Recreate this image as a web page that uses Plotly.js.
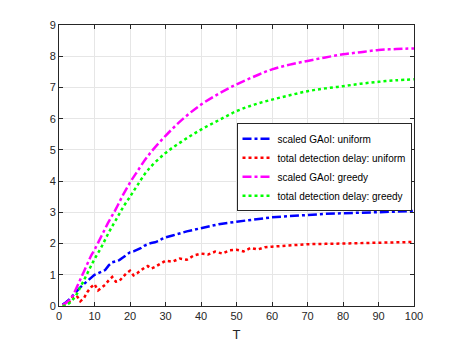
<!DOCTYPE html>
<html>
<head>
<meta charset="utf-8">
<script src="https://cdn.plot.ly/plotly-3.0.1.min.js"></script>
<style>
  html, body { margin: 0; padding: 0; background: #fff; }
  #chart { width: 457px; height: 343px; }
</style>
</head>
<body>
<div id="chart"></div>
<script>
// values
const tGreedy = [1, 2, 3, 4, 5, 6, 7, 8, 9, 10, 12, 14, 16, 18, 20, 22, 25, 30, 35, 40, 45, 50, 55, 60, 65, 70, 75, 80, 85, 90, 95, 100];
const gaoiGreedy = [0.03, 0.1, 0.2, 0.36, 0.6, 0.85, 1.1, 1.35, 1.6, 1.8, 2.25, 2.7, 3.1, 3.55, 3.95, 4.3, 4.8, 5.45, 6.0, 6.45, 6.8, 7.1, 7.35, 7.58, 7.73, 7.85, 7.96, 8.06, 8.13, 8.2, 8.23, 8.25];
const delayGreedy = [0.0, 0.02, 0.1, 0.22, 0.38, 0.6, 0.82, 1.05, 1.28, 1.5, 1.9, 2.35, 2.75, 3.15, 3.5, 3.85, 4.35, 4.9, 5.3, 5.65, 5.95, 6.24, 6.45, 6.61, 6.75, 6.88, 6.97, 7.04, 7.12, 7.18, 7.23, 7.26];

const tGaoiUniform = [1, 2, 3, 4, 5, 6, 7, 8, 9, 10, 11, 12, 13, 14, 15, 16, 17, 18, 19, 20, 21, 22, 23, 24, 25, 26, 27, 28, 29, 30, 32, 34, 36, 38, 40, 45, 50, 55, 60, 65, 70, 75, 80, 85, 90, 95, 100];
const gaoiUniform = [0.05, 0.12, 0.22, 0.35, 0.5, 0.6, 0.7, 0.8, 0.92, 1.0, 1.05, 1.1, 1.15, 1.3, 1.4, 1.43, 1.47, 1.55, 1.65, 1.72, 1.75, 1.8, 1.85, 1.93, 1.98, 2.02, 2.04, 2.08, 2.15, 2.2, 2.26, 2.33, 2.39, 2.44, 2.49, 2.62, 2.7, 2.77, 2.84, 2.88, 2.92, 2.95, 2.97, 2.99, 3.01, 3.03, 3.04];

const tDelayUniform = [1, 2, 3, 4, 5, 6, 7, 8, 9, 10, 11, 12, 13, 14, 15, 16, 17, 18, 19, 20, 21, 22, 23, 24, 25, 26, 27, 28, 29, 30, 32, 34, 36, 38, 40, 42, 44, 46, 48, 50, 52, 54, 56, 58, 60, 65, 70, 75, 80, 85, 90, 95, 100];
const delayUniform = [0.02, 0.06, 0.15, 0.3, 0.33, 0.15, 0.25, 0.45, 0.6, 0.7, 0.5, 0.58, 0.68, 0.82, 0.93, 0.78, 0.8, 0.93, 1.05, 1.13, 0.98, 1.05, 1.15, 1.22, 1.28, 1.2, 1.25, 1.32, 1.4, 1.45, 1.42, 1.52, 1.48, 1.62, 1.68, 1.65, 1.74, 1.68, 1.78, 1.8, 1.75, 1.86, 1.81, 1.88, 1.9, 1.95, 1.98, 1.99, 2.0, 2.02, 2.04, 2.05, 2.05];

const xTicks = [0, 10, 20, 30, 40, 50, 60, 70, 80, 90, 100];
const yTicks = [0, 1, 2, 3, 4, 5, 6, 7, 8, 9];

const traces = [
  {
    x: tGaoiUniform, y: gaoiUniform, mode: "lines",
    name: "scaled GAoI: uniform",
    line: { color: "#0000ff", width: 2.5, dash: "dashdot" }
  },
  {
    x: tDelayUniform, y: delayUniform, mode: "lines",
    name: "total detection delay: uniform",
    line: { color: "#ff0000", width: 2.5, dash: "dot" }
  },
  {
    x: tGreedy, y: gaoiGreedy, mode: "lines",
    name: "scaled GAoI: greedy",
    line: { color: "#ff00ff", width: 2.5, dash: "dashdot", shape: "spline" }
  },
  {
    x: tGreedy, y: delayGreedy, mode: "lines",
    name: "total detection delay: greedy",
    line: { color: "#00ff00", width: 2.5, dash: "dot", shape: "spline" }
  }
];

const axisCommon = {
  showline: true, linecolor: "#262626", linewidth: 1,
  mirror: "ticks", ticks: "inside", ticklen: 4, tickcolor: "#262626",
  showgrid: true, gridcolor: "#e6e6e6", gridwidth: 1,
  zeroline: false,
  tickfont: { family: "Liberation Sans, Arial, sans-serif", size: 11, color: "#262626" }
};

const layout = {
  width: 457, height: 343,
  margin: { l: 59, r: 43, t: 25, b: 37 },
  paper_bgcolor: "#ffffff", plot_bgcolor: "#ffffff",
  font: { family: "Liberation Sans, Arial, sans-serif", color: "#262626" },
  xaxis: Object.assign({}, axisCommon, {
    range: [0, 100], tickvals: xTicks,
    title: { text: "T", font: { size: 13, color: "#262626" }, standoff: 8 }
  }),
  yaxis: Object.assign({}, axisCommon, {
    range: [0, 9], tickvals: yTicks
  }),
  // plotly legend rows are taller than matlab's, so sit a bit higher to keep the blue curve clear
  legend: {
    x: 0.5, y: 0.65, xanchor: "left", yanchor: "top",
    bgcolor: "#ffffff", bordercolor: "#262626", borderwidth: 1,
    font: { size: 10, color: "#000000" },
    tracegroupgap: 0
  },
  showlegend: true
};

Plotly.newPlot("chart", traces, layout, { staticPlot: true, displayModeBar: false });
</script>
</body>
</html>
